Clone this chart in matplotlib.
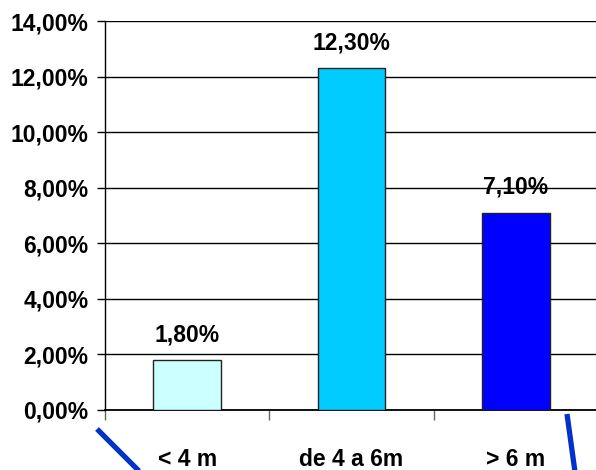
import matplotlib
matplotlib.use("Agg")
import matplotlib.pyplot as plt
from matplotlib.lines import Line2D
import numpy as np

categories = ["< 4 m", "de 4 a 6m", "> 6 m"]
values = [1.80, 12.30, 7.10]
bar_colors = ["#CCFFFF", "#00CCFF", "#0000FF"]
yticks = [0, 2, 4, 6, 8, 10, 12, 14]

plt.rcParams['font.family'] = ['Liberation Sans', 'DejaVu Sans']
plt.rcParams['font.weight'] = 'bold'
FS = 16.5

W, H = 596, 470
fig = plt.figure(figsize=(W / 100, H / 100), dpi=100)
ax = fig.add_axes([105 / W, 1 - 410 / H, (598 - 105) / W, (410 - 21) / H])

x = np.arange(len(categories))
ax.bar(x, values, width=0.41, color=bar_colors, edgecolor="#222222", linewidth=1, zorder=3)

ax.set_xlim(-0.5, 2.5)
ax.set_ylim(0, 14)
ax.set_yticks(yticks)
ax.set_yticklabels([f"{v:.2f}".replace(".", ",") + "%" for v in yticks], fontsize=FS, fontweight='bold')
ax.yaxis.grid(True, color="black", linewidth=1.0, zorder=0)
ax.set_axisbelow(True)

ax.set_xticks([-0.5, 0.5, 1.5, 2.5])
ax.set_xticklabels([])
ax.set_xticks(x, minor=True)
ax.set_xticklabels(categories, minor=True, fontsize=FS, fontweight='bold')
ax.tick_params(axis='x', which='major', length=7, width=1, color="#666666", direction='out')
ax.tick_params(axis='x', which='minor', length=0, pad=27)
ax.tick_params(axis='y', length=6, width=1, pad=6, direction='out')

for s in ["top", "right"]:
    ax.spines[s].set_visible(False)
ax.spines["left"].set_linewidth(1.0)
ax.spines["bottom"].set_linewidth(1.3)

for xi, v in zip(x, values):
    ax.annotate(f"{v:.2f}".replace(".", ",") + "%", (xi, v), xytext=(0, 13.5),
                textcoords="offset points", ha="center", va="baseline",
                fontsize=FS, fontweight='bold')

# decorative blue strokes at bottom
blue = "#0033CC"
fig.add_artist(Line2D([97 / W, 140 / W], [1 - 429 / H, 1 - 472 / H], color=blue, linewidth=3.8,
                      transform=fig.transFigure, solid_capstyle='butt'))
fig.add_artist(Line2D([567 / W, 575 / W], [1 - 414 / H, 1 - 472 / H], color=blue, linewidth=3.8,
                      transform=fig.transFigure, solid_capstyle='butt'))

fig.savefig("out.png", dpi=100)
